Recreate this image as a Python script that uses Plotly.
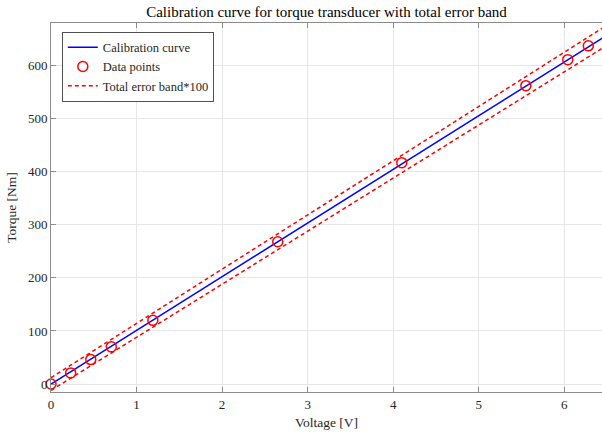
import plotly.graph_objects as go

# Data
data_v = [0.0, 0.23, 0.465, 0.705, 1.19, 2.65, 4.10, 5.55, 6.04, 6.28]
data_t = [0.0, 21.0, 46.0, 70.0, 120.0, 268.0, 417.0, 562.0, 611.0, 637.0]

curve_v = [0.0, 6.45]
curve_t = [0.0, 652.0]

band_v = [0.0, 6.45]
band_upper = [12.0, 671.0]
band_lower = [-12.0, 633.0]

x_ticks = [0, 1, 2, 3, 4, 5, 6]
y_ticks = [0, 100, 200, 300, 400, 500, 600]

FONT = "Liberation Serif"
TXT = "#262626"
AX = "#8c8c8c"

fig = go.Figure()
fig.add_trace(go.Scatter(x=curve_v, y=curve_t, mode="lines", name="Calibration curve",
                         line=dict(color="#0000ff", width=1.5)))
fig.add_trace(go.Scatter(x=data_v, y=data_t, mode="markers", name="Data points",
                         marker=dict(symbol="circle-open", size=10, color="#ff0000",
                                     line=dict(width=1.5, color="#ff0000")),
                         cliponaxis=False))
fig.add_trace(go.Scatter(x=band_v, y=band_upper, mode="lines", name="Total error band*100",
                         line=dict(color="#ff0000", width=1.5, dash="4px,3px")))
fig.add_trace(go.Scatter(x=band_v, y=band_lower, mode="lines", showlegend=False,
                         line=dict(color="#ff0000", width=1.5, dash="4px,3px")))

fig.update_layout(
    width=602, height=432,
    margin=dict(l=51, r=0, t=22.5, b=39.5),
    paper_bgcolor="white", plot_bgcolor="white",
    font=dict(family=FONT, size=13, color=TXT),
    title=dict(text="Calibration curve for torque transducer with total error band",
               x=(51 + 602) / 2 / 602, xanchor="center", y=1 - 11.5 / 432, yanchor="middle",
               font=dict(family=FONT, size=15, color="#000000")),
    legend=dict(x=0.02, y=0.976, xanchor="left", yanchor="top",
                bgcolor="white", bordercolor=TXT, borderwidth=0.8,
                font=dict(family=FONT, size=12.5, color=TXT),
                tracegroupgap=0, itemwidth=30, entrywidthmode="pixels"),
    showlegend=True,
)
fig.update_xaxes(range=[0, 6.44], tickvals=x_ticks, ticktext=[str(t) for t in x_ticks],
                 showgrid=True, gridcolor="#e6e6e6", gridwidth=1,
                 zeroline=False, showline=True, linecolor=AX, linewidth=1,
                 mirror="ticks", ticks="inside", ticklen=5, tickcolor=AX,
                 tickfont=dict(family=FONT, size=13, color=TXT),
                 title=dict(text="Voltage [V]", font=dict(family=FONT, size=13.5, color=TXT),
                            standoff=6))
fig.update_yaxes(range=[-15, 680], tickvals=y_ticks, ticktext=[str(t) for t in y_ticks],
                 showgrid=True, gridcolor="#e6e6e6", gridwidth=1,
                 zeroline=False, showline=True, linecolor=AX, linewidth=1,
                 mirror=False, ticks="inside", ticklen=5, tickcolor=AX,
                 tickfont=dict(family=FONT, size=13, color=TXT),
                 title=dict(text="Torque [Nm]", font=dict(family=FONT, size=13.5, color=TXT),
                            standoff=8))

fig.write_html("out.html")
